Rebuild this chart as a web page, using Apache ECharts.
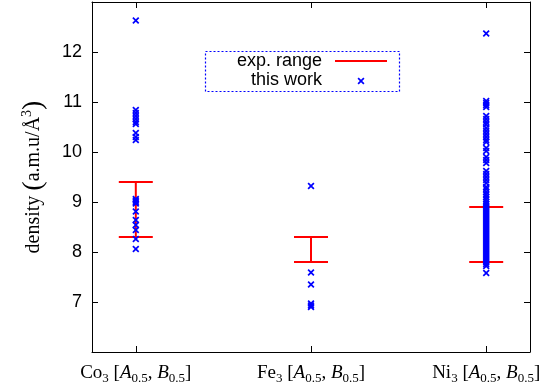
<!DOCTYPE html>
<html>
<head>
<meta charset="utf-8">
<script src="https://cdn.jsdelivr.net/npm/echarts@6/dist/echarts.min.js"></script>
<style>
  html, body { margin: 0; padding: 0; background: #fff; }
  #chart { width: 544px; height: 387px; }
</style>
</head>
<body>
<div id="chart"></div>
<script>
// compounds on the x axis (placed at 0, 1, 2)
const categories = ['Co', 'Fe', 'Ni'];

// experimental density range per compound [low, high]
const expLow = [8.3, 7.8, 7.8];
const expHigh = [9.4, 8.3, 8.9];

// densities from this work
const coValues = [12.63, 10.84, 10.78, 10.72, 10.66, 10.6, 10.56, 10.38, 10.3, 10.24,
  9.06, 9.03, 9.0, 8.97, 8.81, 8.64, 8.54, 8.44, 8.26, 8.06];
const feValues = [9.32, 7.59, 7.35, 6.97, 6.93, 6.9];
const niValues = [12.37, 11.02, 10.98, 10.94, 10.9, 10.72, 10.66, 10.6, 10.55, 10.48,
  10.42, 10.36, 10.3, 10.24, 10.2, 10.08, 10.02, 9.9, 9.84, 9.78, 9.62, 9.56, 9.5,
  9.44, 9.38, 9.3, 9.26, 9.2, 9.15, 9.1, 9.05, 9.0, 8.96, 8.92, 8.88, 8.84, 8.8,
  8.76, 8.72, 8.68, 8.64, 8.6, 8.56, 8.52, 8.48, 8.44, 8.4, 8.36, 8.32, 8.28, 8.24,
  8.2, 8.16, 8.12, 8.08, 8.04, 8.0, 7.96, 7.92, 7.88, 7.84, 7.8, 7.76, 7.72, 7.58];

const yTicks = [7, 8, 9, 10, 11, 12];

const BLUE = '#0000ff';
const RED = '#ff0000';
const crossPath = 'M0,1.7L1.7,0L5,3.3L8.3,0L10,1.7L6.7,5L10,8.3L8.3,10L5,6.7L1.7,10L0,8.3L3.3,5Z';

const points = [];
[coValues, feValues, niValues].forEach((vals, i) => {
  vals.forEach(v => points.push([i, v]));
});
const ranges = categories.map((c, i) => [i, expLow[i], expHigh[i]]);

const chart = echarts.init(document.getElementById('chart'));

const xLabel = (name) =>
  '{r|' + name + '}{s|3}{r| [}{i|A}{s|0.5}{r|, }{i|B}{s|0.5}{r|]}';

const serif = 'Liberation Serif';
const sans = 'Liberation Sans';

const axisCommonX = {
  type: 'value',
  min: -0.25,
  max: 2.25,
  splitLine: { show: false },
  axisLine: { show: true, onZero: false, lineStyle: { color: '#000', width: 1 } },
  axisTick: { show: true, inside: true, length: 6, customValues: [0, 1, 2],
    lineStyle: { color: '#000' } }
};
const axisCommonY = {
  type: 'value',
  min: 6,
  max: 13,
  interval: 1,
  splitLine: { show: false },
  axisLine: { show: true, onZero: false, lineStyle: { color: '#000', width: 1 } },
  axisTick: { show: true, inside: true, length: 6, lineStyle: { color: '#000' } }
};

// legend cross drawn as a small polygon
const lx = 361, ly = 81, lr = 3.5;
const legendCross = [];
crossPath.replace(/[ML]/g, ' ').replace('Z', '').trim().split(' ').forEach(p => {
  const xy = p.split(',').map(Number);
  legendCross.push([lx - lr + xy[0] * lr / 5, ly - lr + xy[1] * lr / 5]);
});

const option = {
  animation: false,
  grid: { left: 92, right: 14, top: 2, bottom: 35 },
  xAxis: [
    Object.assign({}, axisCommonX, {
      position: 'bottom',
      axisLabel: {
        customValues: [0, 1, 2],
        margin: 9,
        formatter: v => xLabel(categories[Math.round(v)]),
        rich: {
          r: { fontFamily: serif, fontSize: 19, color: '#000', lineHeight: 24 },
          i: { fontFamily: serif, fontSize: 19, fontStyle: 'italic', color: '#000', lineHeight: 24 },
          s: { fontFamily: serif, fontSize: 13, color: '#000', lineHeight: 24, verticalAlign: 'bottom' }
        }
      }
    }),
    Object.assign({}, axisCommonX, { position: 'top', axisLabel: { show: false } })
  ],
  yAxis: [
    Object.assign({}, axisCommonY, {
      position: 'left',
      axisLabel: {
        margin: 10,
        fontFamily: sans,
        fontSize: 18,
        color: '#000',
        formatter: v => (yTicks.includes(v) ? String(v) : '')
      },
      name: '{r|density }{p|(}{r|a.m.u/Å}{sup|3}{p|)}',
      nameLocation: 'middle',
      nameGap: 44,
      nameRotate: 90,
      nameTextStyle: {
        rich: {
          r: { fontFamily: serif, fontSize: 20, color: '#000', lineHeight: 28 },
          p: { fontFamily: serif, fontSize: 28, color: '#000', lineHeight: 28 },
          sup: { fontFamily: serif, fontSize: 14, color: '#000', lineHeight: 28, verticalAlign: 'top' }
        }
      }
    }),
    Object.assign({}, axisCommonY, { position: 'right', axisLabel: { show: false } })
  ],
  series: [
    {
      name: 'exp. range',
      type: 'custom',
      data: ranges,
      renderItem: (params, api) => {
        const lo = api.coord([api.value(0), api.value(1)]);
        const hi = api.coord([api.value(0), api.value(2)]);
        const hw = 17;
        const style = { stroke: RED, lineWidth: 2 };
        return {
          type: 'group',
          children: [
            { type: 'line', shape: { x1: lo[0], y1: lo[1], x2: hi[0], y2: hi[1] }, style },
            { type: 'line', shape: { x1: lo[0] - hw, y1: lo[1], x2: lo[0] + hw, y2: lo[1] }, style },
            { type: 'line', shape: { x1: hi[0] - hw, y1: hi[1], x2: hi[0] + hw, y2: hi[1] }, style }
          ]
        };
      },
      z: 2
    },
    {
      name: 'this work',
      type: 'scatter',
      data: points,
      symbol: 'path://' + crossPath,
      symbolSize: 7,
      itemStyle: { color: BLUE, opacity: 1 },
      z: 3
    }
  ],
  graphic: [
    {
      type: 'rect',
      shape: { x: 205.5, y: 51.5, width: 194, height: 40 },
      style: { fill: 'none', stroke: BLUE, lineWidth: 1.2, lineDash: [2, 2] },
      z: 10
    },
    {
      type: 'text', x: 322, y: 61,
      style: { text: 'exp. range', fontFamily: sans, fontSize: 18, fill: '#000',
        textAlign: 'right', textVerticalAlign: 'middle' }, z: 10
    },
    {
      type: 'line', shape: { x1: 335, y1: 61, x2: 387, y2: 61 },
      style: { stroke: RED, lineWidth: 2 }, z: 10
    },
    {
      type: 'text', x: 322, y: 80,
      style: { text: 'this work', fontFamily: sans, fontSize: 18, fill: '#000',
        textAlign: 'right', textVerticalAlign: 'middle' }, z: 10
    },
    {
      type: 'polygon',
      shape: { points: legendCross },
      style: { fill: BLUE }, z: 10
    }
  ]
};

chart.setOption(option);
</script>
</body>
</html>
